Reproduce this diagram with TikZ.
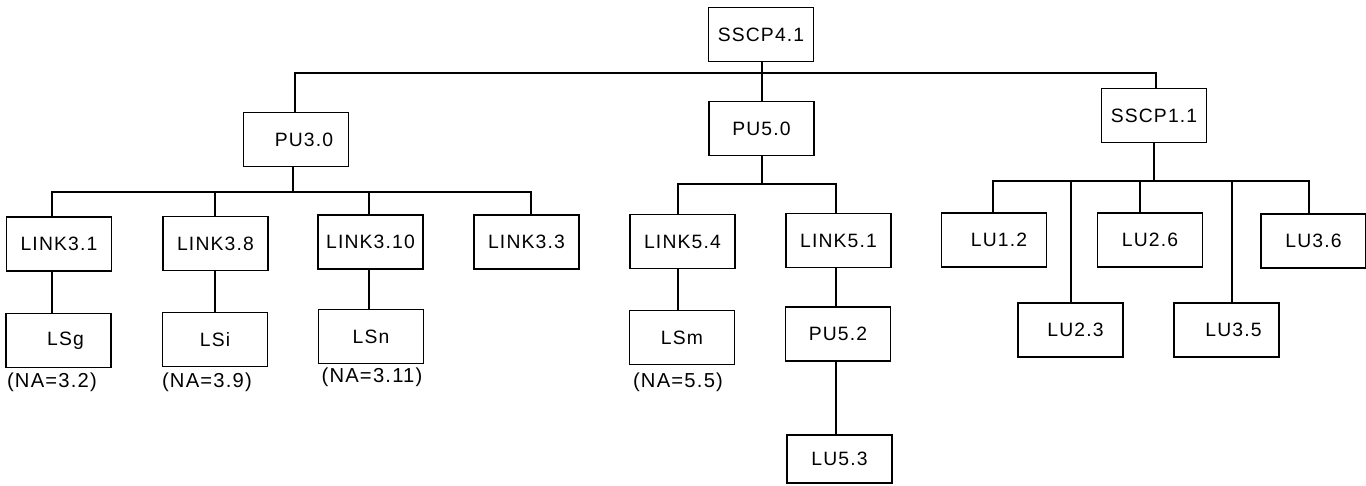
\documentclass[tikz,border=0pt]{standalone}
\usepackage{fontspec}
\setmainfont{Liberation Sans}[LetterSpace=6]
\begin{document}
\begin{tikzpicture}[x=0.02cm,y=-0.02cm,
  box/.style={draw,line width=1.1pt,minimum width=2.1cm,minimum height=1.08cm,inner sep=0pt,font=\fontsize{11}{13}\selectfont},
  lbl/.style={inner sep=0pt,font=\fontsize{11.5}{13}\selectfont},
  conn/.style={line width=1.1pt}]
\useasboundingbox (0,0) rectangle (1366,485);
% nodes
\node[box] (sscp41) at (761,34.5) {SSCP4.1};
\node[box] (pu30) at (296,139.5) {\hspace*{0.32cm}PU3.0};
\node[box] (pu50) at (761.5,128.5) {PU5.0};
\node[box] (sscp11) at (1154,115.5) {SSCP1.1};
\node[box] (l31) at (59,244) {LINK3.1};
\node[box] (l38) at (215.5,243.5) {LINK3.8};
\node[box] (l310) at (370.5,242) {LINK3.10};
\node[box] (l33) at (526.5,242) {LINK3.3};
\node[box] (lsg) at (58.5,340.5) {\hspace*{0.28cm}LSg};
\node[box] (lsi) at (215,339.5) {LSi};
\node[box] (lsn) at (371,336.5) {LSn};
\node[lbl] (na32) at (52,382) {(NA=3.2)};
\node[lbl] (na39) at (207,382) {(NA=3.9)};
\node[lbl] (na311) at (372,377) {(NA=3.11)};
\node[box] (l54) at (682.5,241.5) {LINK5.4};
\node[box] (lsm) at (682,337.5) {LSm};
\node[lbl] (na55) at (678,382) {(NA=5.5)};
\node[box] (l51) at (838.5,240.5) {LINK5.1};
\node[box] (pu52) at (838,334) {PU5.2};
\node[box,minimum height=0.96cm] (lu53) at (839.5,459) {LU5.3};
\node[box] (lu12) at (994,240) {\hspace*{0.2cm}LU1.2};
\node[box] (lu23) at (1070.5,330) {\hspace*{0.2cm}LU2.3};
\node[box] (lu26) at (1150,240) {LU2.6};
\node[box] (lu35) at (1226.5,330) {\hspace*{0.28cm}LU3.5};
\node[box] (lu36) at (1313.5,241) {LU3.6};
% bus coordinates
\coordinate (t1) at (295,73);
\coordinate (t2) at (762,73);
\coordinate (t3) at (1156,73);
\coordinate (a0) at (293,192);
\coordinate (a1) at (52,192);
\coordinate (a2) at (215,192);
\coordinate (a3) at (369,192);
\coordinate (a4) at (531,192);
\coordinate (b0) at (762,184);
\coordinate (b1) at (678,184);
\coordinate (b2) at (836,184);
\coordinate (c0) at (1154,181);
\coordinate (c1) at (993,181);
\coordinate (c2) at (1071,181);
\coordinate (c3) at (1140,181);
\coordinate (c4) at (1232,181);
\coordinate (c5) at (1309,181);
% top level
\draw[conn] (sscp41.south -| t2) -- (t2);
\draw[conn] (pu30.north -| t1) -- (t1) -- (t3) -- (sscp11.north -| t3);
\draw[conn] (t2) -- (pu50.north -| t2);
% PU3.0 subtree
\draw[conn] (pu30.south -| a0) -- (a0);
\draw[conn] (l31.north -| a1) -- (a1) -- (a4) -- (l33.north -| a4);
\draw[conn] (a2) -- (l38.north -| a2);
\draw[conn] (a3) -- (l310.north -| a3);
\draw[conn] (l31.south -| a1) -- (lsg.north -| a1);
\draw[conn] (l38.south -| a2) -- (lsi.north -| a2);
\draw[conn] (l310.south -| a3) -- (lsn.north -| a3);
% PU5.0 subtree
\draw[conn] (pu50.south -| b0) -- (b0);
\draw[conn] (l54.north -| b1) -- (b1) -- (b2) -- (l51.north -| b2);
\draw[conn] (l54.south -| b1) -- (lsm.north -| b1);
\draw[conn] (l51.south -| b2) -- (pu52.north -| b2);
\draw[conn] (pu52.south -| b2) -- (lu53.north -| b2);
% SSCP1.1 subtree
\draw[conn] (sscp11.south -| c0) -- (c0);
\draw[conn] (lu12.north -| c1) -- (c1) -- (c5) -- (lu36.north -| c5);
\draw[conn] (c2) -- (lu23.north -| c2);
\draw[conn] (c3) -- (lu26.north -| c3);
\draw[conn] (c4) -- (lu35.north -| c4);
\end{tikzpicture}
\end{document}
